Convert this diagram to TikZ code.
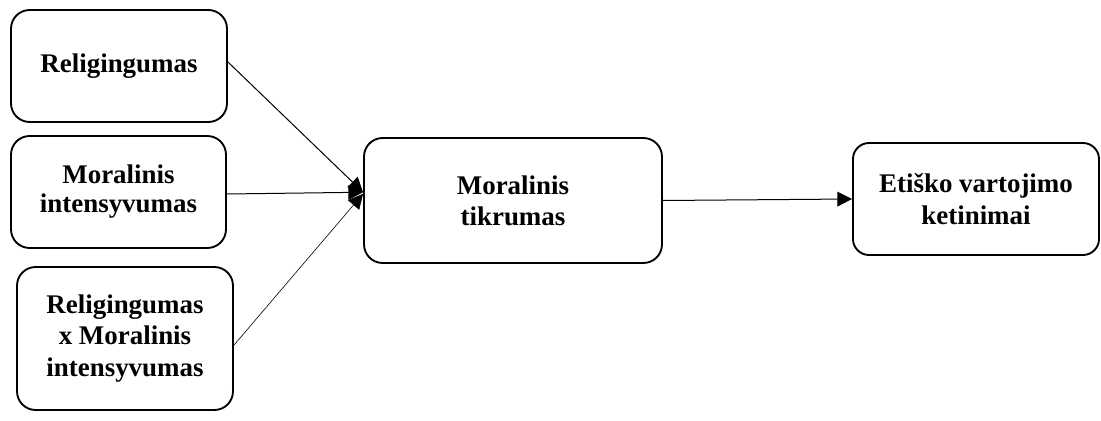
\documentclass[tikz,border=0pt]{standalone}
\usepackage{fontspec}
\setmainfont{Liberation Serif}
\usetikzlibrary{arrows.meta}
\begin{document}
\begin{tikzpicture}[x=0.75pt,y=-0.75pt,
  box/.style={draw=black, line width=1.4pt, rounded corners=14pt, fill=white,
    align=center, inner sep=0pt, font=\fontsize{20.2}{23.5}\selectfont\bfseries},
  link/.style={draw=black, line width=0.75pt, -{Triangle[length=11pt,width=11pt]}}]
  \useasboundingbox (0,0) rectangle (1101,421);
  % predictor boxes
  \node[box, minimum width=162pt, minimum height=84pt] (rel) at (119,66) {\raisebox{3pt}{Religingumas}};
  \node[box, minimum width=161.25pt, minimum height=84pt] (mint) at (118.5,192) {\raisebox{3pt}{\begin{tabular}{@{}c@{}}Moralinis\\[-2pt]intensyvumas\end{tabular}}};
  \node[box, minimum width=162pt, minimum height=107.25pt] (inter) at (125,338.5) {Religingumas\\x Moralinis\\intensyvumas};
  % mediator and outcome
  \node[box, minimum width=223.5pt, minimum height=93.75pt] (tikr) at (513,200.5) {Moralinis\\tikrumas};
  \node[box, minimum width=184.5pt, minimum height=84pt, rounded corners=12pt] (ket) at (976,199) {Etiško vartojimo\\ketinimai};
  % paths
  \draw[link] ([yshift=3pt]rel.east) -- ([yshift=6.2pt]tikr.west);
  \draw[link] ([yshift=-1.5pt]mint.east) -- ([yshift=6.2pt]tikr.west);
  \draw[link, line width=0.45pt] ([yshift=-5pt]inter.east) -- ([yshift=5pt]tikr.west);
  \draw[link] ([yshift=0pt]tikr.east) -- (ket.west);
\end{tikzpicture}
\end{document}
